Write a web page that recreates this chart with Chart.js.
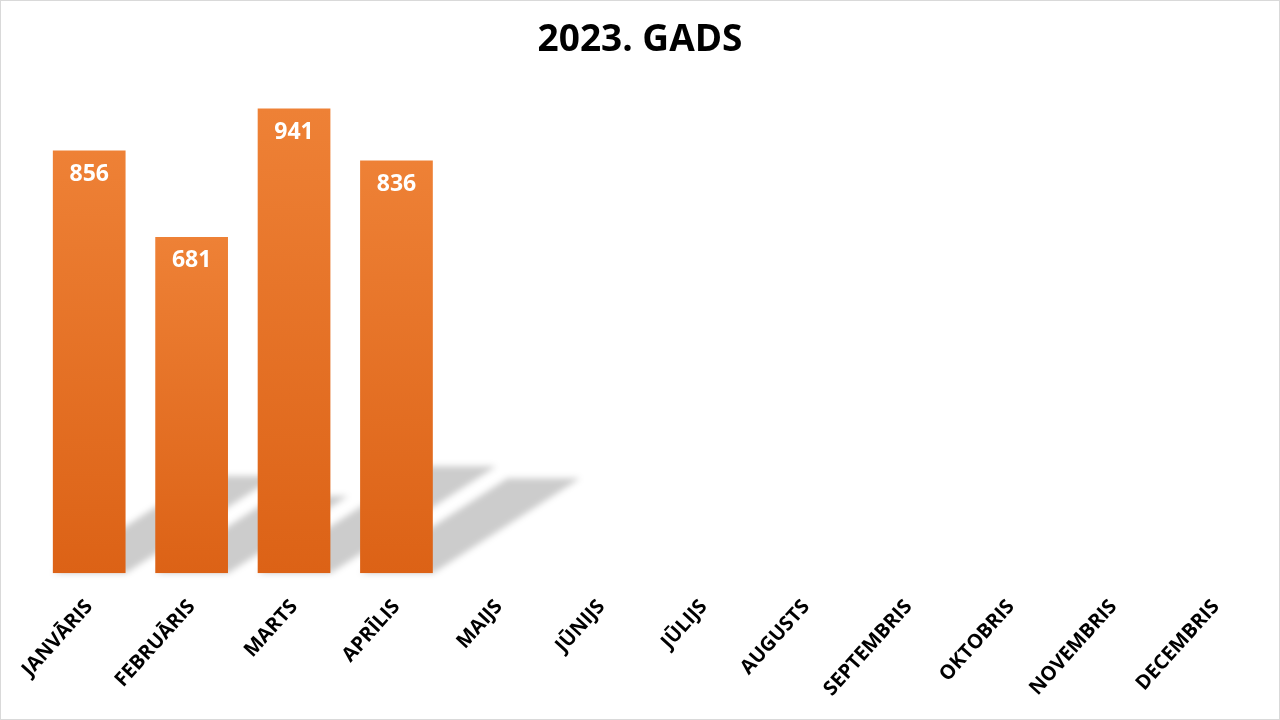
<!DOCTYPE html>
<html>
<head>
<meta charset="utf-8">
<script src="https://cdn.jsdelivr.net/npm/chart.js@4.4.0/dist/chart.umd.min.js"></script>
<style>
  html, body { margin: 0; padding: 0; background: #fff; }
  #wrap { width: 1280px; height: 720px; box-sizing: border-box; border: 1px solid #d9d9d9; background: #fff; }
  canvas { display: block; }
</style>
</head>
<body>
<div id="wrap"><canvas id="chart" width="1278" height="718"></canvas></div>
<script>
// 2023. gads - monthly values
const months = ["JANVĀRIS", "FEBRUĀRIS", "MARTS", "APRĪLIS", "MAIJS", "JŪNIJS", "JŪLIJS", "AUGUSTS", "SEPTEMBRIS", "OKTOBRIS", "NOVEMBRIS", "DECEMBRIS"];
const values = [856, 681, 941, 836, null, null, null, null, null, null, null, null];
const titleText = "2023. GADS";

const FONT = "'Open Sans', 'DejaVu Sans', sans-serif";

// gradient per bar, from its top to the base
function barGradient(context) {
    const chart = context.chart;
    const { ctx, chartArea, scales } = chart;
    if (!chartArea) return '#E6732A';
    const v = context.raw;
    if (v == null) return '#E6732A';
    const top = scales.y.getPixelForValue(v);
    const base = scales.y.getPixelForValue(0);
    const g = ctx.createLinearGradient(0, top, 0, base);
    g.addColorStop(0, '#EE8136');
    g.addColorStop(1, '#DC6216');
    return g;
}

// soft perspective shadow behind each bar
const shadowPlugin = {
    id: 'barShadow',
    beforeDatasetsDraw(chart) {
        const ctx = chart.ctx;
        const meta = chart.getDatasetMeta(0);
        ctx.save();
        ctx.filter = 'blur(3px)';
        ctx.fillStyle = 'rgba(0,0,0,0.2)';
        meta.data.forEach((bar, i) => {
            if (values[i] == null) return;
            const h = bar.base - bar.y;
            const half = bar.width / 2;
            const dx = h * 0.357, dy = h * 0.23;
            ctx.beginPath();
            ctx.moveTo(bar.x - half, bar.base);
            ctx.lineTo(bar.x + half, bar.base);
            ctx.lineTo(bar.x + half + dx, bar.base - dy);
            ctx.lineTo(bar.x - half + dx, bar.base - dy);
            ctx.closePath();
            ctx.fill();
        });
        ctx.restore();
    }
};

// white value labels inside the bar top
const valueLabels = {
    id: 'valueLabels',
    afterDatasetsDraw(chart) {
        const ctx = chart.ctx;
        const meta = chart.getDatasetMeta(0);
        ctx.save();
        ctx.fillStyle = '#ffffff';
        ctx.font = "bold 23px " + FONT;
        ctx.textAlign = 'center';
        ctx.textBaseline = 'middle';
        meta.data.forEach((bar, i) => {
            if (values[i] == null) return;
            ctx.fillText(String(values[i]), bar.x, bar.y + 24);
        });
        ctx.restore();
    }
};

new Chart(document.getElementById('chart'), {
    type: 'bar',
    data: {
        labels: months,
        datasets: [{
            data: values,
            backgroundColor: barGradient,
            borderWidth: 0,
            barPercentage: 0.71,
            categoryPercentage: 1
        }]
    },
    options: {
        responsive: false,
        animation: false,
        layout: { padding: { left: 12, right: 12, top: 0, bottom: 4 } },
        plugins: {
            legend: { display: false },
            tooltip: { enabled: false },
            title: {
                display: true,
                text: titleText,
                color: '#000000',
                font: { family: FONT, size: 37, weight: 'bold' },
                padding: { top: 17, bottom: 17 }
            }
        },
        scales: {
            x: {
                grid: { display: false },
                border: { display: false },
                ticks: {
                    autoSkip: false,
                    maxRotation: 48,
                    minRotation: 48,
                    color: '#000000',
                    padding: 14,
                    font: { family: FONT, size: 20, weight: 'bold' }
                }
            },
            y: {
                // hidden axis kept only as a fixed left gutter
                display: true,
                min: 0,
                max: 1000,
                grid: { display: false },
                border: { display: false },
                ticks: { display: false },
                afterFit(scale) { scale.width = 25; }
            }
        }
    },
    plugins: [shadowPlugin, valueLabels]
});
</script>
</body>
</html>
